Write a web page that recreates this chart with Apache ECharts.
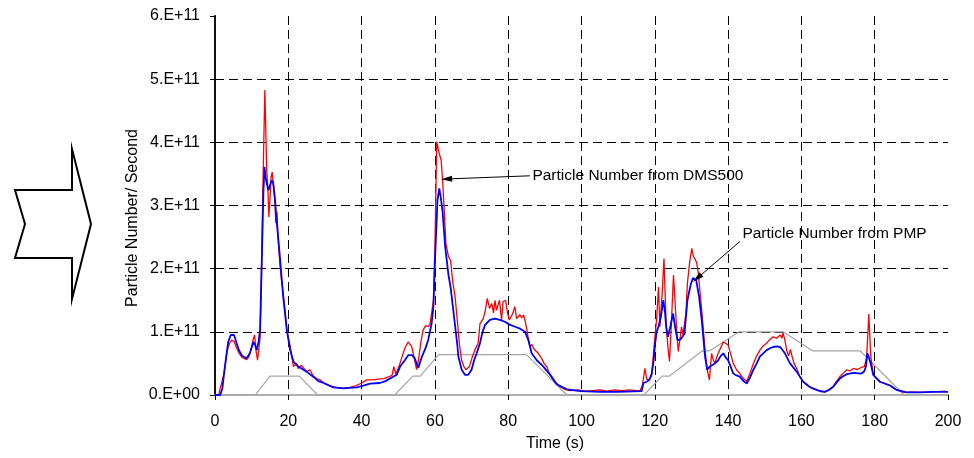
<!DOCTYPE html>
<html><head><meta charset="utf-8">
<script src="https://cdn.jsdelivr.net/npm/echarts@6/dist/echarts.min.js"></script>
<style>html,body{margin:0;padding:0;background:#fff}#c{width:974px;height:458px}</style>
</head><body><div id="c"></div>
<script>
const UNIT = 1e11;            // values below are in units of 1e11 particles/s
const SPEED_SCALE = 0.02;     // drive-cycle speed trace (km/h) drawn in units of 1e11
const xTicks = [0, 20, 40, 60, 80, 100, 120, 140, 160, 180, 200];
const yTickLabels = ['0.E+00', '1.E+11', '2.E+11', '3.E+11', '4.E+11', '5.E+11', '6.E+11'];

// Particle Number from DMS500 [time s, value x1e11]
const dmsPoints = [
[0,0],[1,0],[1.5,0.02],[2.5,0.35],[3.3,0.7],[4.0,0.82],[4.5,0.87],[5.2,0.85],[5.9,0.74],[6.6,0.66],[7.3,0.6],[8.0,0.58],[8.6,0.56],[9.2,0.6],[9.8,0.72],[10.5,0.9],[10.8,0.95],[11.2,0.7],[11.6,0.55],[12.0,0.54],[12.3,0.9],[12.7,2.03],[13.2,3.7],[13.6,4.83],[13.9,4.1],[14.1,3.56],[14.4,3.3],[14.7,2.82],[15.0,3.1],[15.3,3.45],[15.6,3.53],[16.0,3.5],[16.3,3.1],[16.6,2.72],[16.9,2.9],[17.2,2.5],[17.7,2.08],[18.1,1.85],[18.5,1.66],[19.1,1.34],[19.6,1.03],[20.0,0.9],[20.5,0.78],[21.4,0.45],[22.3,0.5],[22.7,0.42],[23.6,0.47],[25.0,0.37],[25.9,0.4],[26.8,0.3],[27.7,0.26],[28.6,0.24],[30.0,0.18],[31.5,0.14],[33.2,0.12],[35.0,0.11],[36.8,0.12],[38.5,0.15],[40.0,0.19],[41.4,0.24],[43.0,0.24],[44.5,0.25],[46.0,0.26],[47.5,0.29],[48.3,0.31],[48.8,0.45],[49.3,0.33],[50.2,0.45],[51.0,0.6],[51.8,0.74],[52.7,0.84],[53.7,0.76],[54.3,0.6],[55.0,0.4],[55.5,0.55],[56.2,0.85],[56.8,1.03],[57.5,1.1],[58.2,1.08],[58.7,1.13],[59.2,1.15],[59.6,1.5],[60.0,2.3],[60.5,4.01],[60.9,3.9],[61.2,3.82],[61.7,3.72],[62.1,3.4],[62.5,2.98],[63.0,2.4],[63.7,2.19],[64.3,2.13],[64.8,1.82],[65.5,1.56],[66.1,1.19],[66.7,0.8],[67.3,0.55],[67.9,0.45],[68.5,0.4],[69.4,0.45],[70.2,0.6],[70.9,0.71],[71.8,0.82],[72.3,1.13],[73.2,1.21],[73.8,1.35],[74.3,1.53],[74.9,1.37],[75.5,1.45],[76.0,1.3],[76.4,1.5],[76.8,1.34],[77.2,1.42],[77.6,1.5],[78.2,1.19],[78.6,1.48],[79.3,1.5],[79.8,1.3],[80.3,1.19],[80.8,1.24],[81.3,1.3],[81.8,1.4],[82.3,1.21],[83.2,1.27],[83.7,1.22],[84.2,1.27],[84.7,1.15],[85.1,1.03],[85.6,0.85],[86.0,0.76],[86.5,0.8],[86.9,0.74],[87.5,0.7],[88.2,0.66],[89.1,0.58],[89.8,0.5],[90.5,0.45],[91.2,0.35],[91.9,0.29],[93.0,0.2],[94.2,0.13],[95.5,0.09],[97,0.07],[99,0.08],[101,0.06],[103,0.07],[105,0.08],[107,0.06],[109,0.08],[111,0.07],[113,0.08],[115,0.07],[116.0,0.07],[116.6,0.15],[117.3,0.42],[117.8,0.25],[118.5,0.24],[119.2,0.35],[120.0,0.9],[120.5,1.2],[121.0,1.71],[121.4,1.08],[122.0,1.6],[122.5,2.16],[123.1,1.11],[123.6,0.75],[124.0,0.53],[124.5,1.1],[125.1,1.9],[125.6,1.4],[126.0,1.0],[126.4,0.69],[126.9,0.9],[127.3,1.08],[127.7,0.95],[128.1,0.92],[128.5,1.3],[128.9,1.77],[129.5,2.1],[130.1,2.32],[130.5,2.2],[130.9,2.19],[131.4,2.1],[131.9,1.92],[132.3,1.65],[132.8,1.34],[133.3,1.0],[133.7,0.71],[134.3,0.4],[134.9,0.24],[135.5,0.66],[136.0,0.55],[136.4,0.5],[136.9,0.6],[137.3,0.66],[138.0,0.75],[138.7,0.84],[139.3,0.82],[140.0,0.79],[140.7,0.65],[141.4,0.5],[142.3,0.4],[143.2,0.34],[144.2,0.26],[145.1,0.21],[146.0,0.35],[146.9,0.5],[147.8,0.62],[148.7,0.71],[149.6,0.78],[150.5,0.82],[151.4,0.88],[152.3,0.92],[153.2,0.9],[154.2,0.95],[154.7,0.9],[155.0,0.98],[155.5,0.87],[156.0,0.7],[156.5,0.62],[157.0,0.72],[157.5,0.6],[158.0,0.5],[158.7,0.42],[159.5,0.3],[160.5,0.21],[161.5,0.16],[162.5,0.12],[163.5,0.1],[164.5,0.07],[165.5,0.05],[166.4,0.05],[167.5,0.08],[168.7,0.14],[169.6,0.22],[170.5,0.29],[171.5,0.35],[172.4,0.4],[173.2,0.38],[174.2,0.42],[175.2,0.4],[176.4,0.44],[177.2,0.45],[177.8,0.6],[178.4,1.28],[178.9,0.63],[179.6,0.32],[180.5,0.26],[181.4,0.21],[182.8,0.18],[184.2,0.15],[185.0,0.12],[186.0,0.08],[187.5,0.05],[188.7,0.04],[190,0.05],[193,0.04],[196,0.05],[199,0.06],[200,0.05]
];

// Particle Number from PMP [time s, value x1e11]
const pmpPoints = [
[0,0],[1.4,0],[2.0,0.1],[2.7,0.45],[3.6,0.84],[4.3,0.95],[5.2,0.95],[5.9,0.82],[6.6,0.7],[7.3,0.63],[8.0,0.6],[8.6,0.58],[9.5,0.66],[10.5,0.84],[11.0,0.78],[11.4,0.71],[11.9,0.85],[12.3,1.03],[12.8,2.2],[13.2,3.2],[13.5,3.61],[13.8,3.45],[14.1,3.35],[14.6,3.24],[15.0,3.32],[15.5,3.4],[15.9,3.35],[16.4,3.08],[16.8,2.77],[17.7,2.19],[18.6,1.56],[19.6,1.03],[20.5,0.71],[21.4,0.53],[22.7,0.45],[25.0,0.37],[26.8,0.29],[28.2,0.22],[29.6,0.19],[32.3,0.12],[35.0,0.105],[38.7,0.12],[40.5,0.15],[42.3,0.18],[45.0,0.19],[46.5,0.22],[48.6,0.29],[49.6,0.32],[50.5,0.45],[51.8,0.55],[52.7,0.63],[53.8,0.63],[54.5,0.58],[55.0,0.5],[55.5,0.43],[56.4,0.6],[57.5,0.75],[58.2,0.88],[59.1,1.13],[59.6,1.4],[60.0,2.1],[60.7,3.08],[61.2,3.27],[61.6,3.13],[62.1,2.9],[62.8,2.35],[63.3,2.1],[63.7,1.9],[64.3,1.7],[64.8,1.45],[65.5,1.1],[66.1,0.8],[66.4,0.61],[67.3,0.4],[68.2,0.32],[69.1,0.32],[70.0,0.4],[70.7,0.55],[71.4,0.66],[72.3,0.82],[73.0,1.0],[73.7,1.11],[75.0,1.19],[76.4,1.21],[77.7,1.19],[79.1,1.16],[80.5,1.11],[81.9,1.08],[83.2,1.05],[84.6,1.0],[85.5,0.87],[86.4,0.66],[87.8,0.55],[89.6,0.45],[91.4,0.32],[93.2,0.17],[96.0,0.09],[99.7,0.06],[105,0.05],[110,0.05],[116.4,0.06],[116.9,0.19],[117.8,0.21],[118.5,0.24],[119.1,0.32],[119.6,0.5],[120.1,0.82],[120.5,1.0],[121.0,1.08],[121.7,1.25],[122.3,1.5],[122.8,1.3],[123.1,1.08],[123.6,0.92],[124.3,1.1],[125.0,1.29],[125.6,1.05],[126.2,0.87],[127.0,0.88],[128.1,0.97],[128.9,1.5],[129.8,1.75],[130.4,1.85],[130.7,1.87],[131.3,1.82],[132.1,1.55],[132.8,1.19],[133.7,0.61],[134.3,0.4],[135.0,0.45],[135.5,0.45],[136.4,0.5],[137.3,0.55],[138.0,0.62],[138.7,0.66],[139.3,0.6],[140.0,0.55],[140.7,0.45],[141.4,0.34],[142.3,0.31],[143.2,0.29],[144.2,0.22],[145.1,0.18],[146.0,0.28],[146.9,0.4],[147.8,0.5],[148.7,0.61],[149.6,0.66],[150.5,0.71],[151.4,0.74],[152.3,0.76],[153.2,0.77],[154.2,0.76],[155.5,0.66],[156.9,0.5],[157.4,0.53],[158.7,0.37],[160.5,0.21],[162.0,0.14],[163.2,0.1],[164.8,0.07],[166.4,0.05],[167.5,0.08],[168.7,0.13],[169.6,0.2],[170.5,0.26],[171.5,0.3],[172.4,0.33],[174.2,0.35],[176.4,0.34],[177.2,0.38],[177.6,0.45],[178.0,0.66],[178.4,0.6],[178.9,0.5],[179.6,0.32],[181.4,0.21],[184.2,0.15],[186.0,0.08],[188.7,0.04],[192,0.04],[196,0.05],[200,0.05]
];

// Drive-cycle speed trace [time s, speed km/h]
const speedPoints = [
[0,0],[11,0],[15,15],[23,15],[28,0],[49,0],[54,15],[56,15],[61,32],[85,32],[96,0],[117,0],[122,15],[124,15],[133,35],[135,35],[143,50],[155,50],[163,35],[176,35],[188,0],[200,0]
];

// Annotations: [text, label anchor (t, v), arrow tail (t, v), arrow head (t, v)]
const annotations = [
  ['Particle Number from DMS500', [86.6, 3.465], [85.9, 3.47], [63.2, 3.42]],
  ['Particle Number from PMP', [143.9, 2.55], [143.2, 2.43], [131.6, 1.85]]
];

const FONT = 'Liberation Sans, Arial, sans-serif';
const chart = echarts.init(document.getElementById('c'), null, {renderer: 'canvas'});

const toData = pts => pts.map(p => [p[0], p[1] * UNIT]);

const option = {
  animation: false,
  backgroundColor: '#fff',
  grid: {left: 215, right: 26, top: 16, bottom: 63, show: false},
  xAxis: [{
    type: 'value', min: xTicks[0], max: xTicks[xTicks.length - 1], interval: xTicks[1] - xTicks[0],
    axisLine: {show: true, onZero: false, lineStyle: {color: '#555', width: 2}},
    axisTick: {show: true, inside: false, length: 5, lineStyle: {color: '#000'}},
    axisLabel: {margin: 19, color: '#000', fontSize: 16, fontFamily: FONT},
    splitLine: {show: true, showMinLine: false, showMaxLine: false, lineStyle: {color: '#000', type: [9, 5], width: 1}}
  }, {
    type: 'value', position: 'top', min: 0, max: 200,
    axisLine: {show: true, lineStyle: {color: '#b0b0b0', width: 2}},
    axisTick: {show: false}, axisLabel: {show: false}, splitLine: {show: false}
  }],
  yAxis: [{
    type: 'value', min: 0, max: 6 * UNIT, interval: UNIT,
    axisLine: {show: true, onZero: false, lineStyle: {color: '#000', width: 1.5}},
    axisTick: {show: true, inside: false, length: 5, lineStyle: {color: '#000'}},
    axisLabel: {margin: 15, color: '#000', fontSize: 16, fontFamily: FONT,
      formatter: v => yTickLabels[Math.round(v / UNIT)]},
    splitLine: {show: true, showMinLine: false, showMaxLine: false, lineStyle: {color: '#000', type: [9, 5], width: 1}}
  }, {
    type: 'value', position: 'right', min: 0, max: 6 * UNIT,
    axisLine: {show: true, lineStyle: {color: '#111', width: 2}},
    axisTick: {show: false}, axisLabel: {show: false}, splitLine: {show: false}
  }],
  series: [
    {
      name: 'Speed', type: 'line', showSymbol: false, symbol: 'none',
      data: speedPoints.map(p => [p[0], p[1] * SPEED_SCALE * UNIT]),
      lineStyle: {color: '#a6a6a6', width: 1.2}, z: 2,
      markLine: {
        silent: true, animation: false, symbol: ['none', 'triangle'], symbolSize: [10, 10],
        label: {show: false},
        lineStyle: {color: '#000', width: 1, type: 'solid'},
        itemStyle: {color: '#000'},
        data: annotations.map(a => [{coord: [a[2][0], a[2][1] * UNIT]}, {coord: [a[3][0], a[3][1] * UNIT], symbolSize: [6, 11]}])
      },
      markPoint: {
        silent: true, animation: false, symbol: 'circle', symbolSize: 0,
        data: annotations.map(a => ({
          coord: [a[1][0], a[1][1] * UNIT],
          label: {show: true, position: 'right', distance: 0, formatter: a[0],
            color: '#000', fontSize: 15.5, fontFamily: FONT}
        }))
      }
    },
    {
      name: 'Particle Number from DMS500', type: 'line', showSymbol: false, symbol: 'none',
      data: toData(dmsPoints), lineStyle: {color: '#ff0000', width: 1.3}, z: 3
    },
    {
      name: 'Particle Number from PMP', type: 'line', showSymbol: false, symbol: 'none',
      data: toData(pmpPoints), lineStyle: {color: '#0000ff', width: 1.8}, z: 4
    }
  ],
  graphic: [
    {
      type: 'polygon', z: 10,
      shape: {points: [[15, 190], [72, 190], [72, 149], [91, 224], [72, 299], [72, 258], [15, 258], [25, 224]]},
      style: {fill: '#fff', stroke: '#000', lineWidth: 2, lineJoin: 'miter'}
    },
    {
      type: 'text', x: 133, y: 218, rotation: Math.PI / 2,
      style: {text: 'Particle Number/ Second', fontSize: 16, fontFamily: FONT, fill: '#000',
        textAlign: 'center', textVerticalAlign: 'middle'}
    },
    {
      type: 'text', x: 555, y: 444,
      style: {text: 'Time (s)', fontSize: 16, fontFamily: FONT, fill: '#000',
        textAlign: 'center', textVerticalAlign: 'middle'}
    }
  ]
};
chart.setOption(option);
</script>
</body></html>
